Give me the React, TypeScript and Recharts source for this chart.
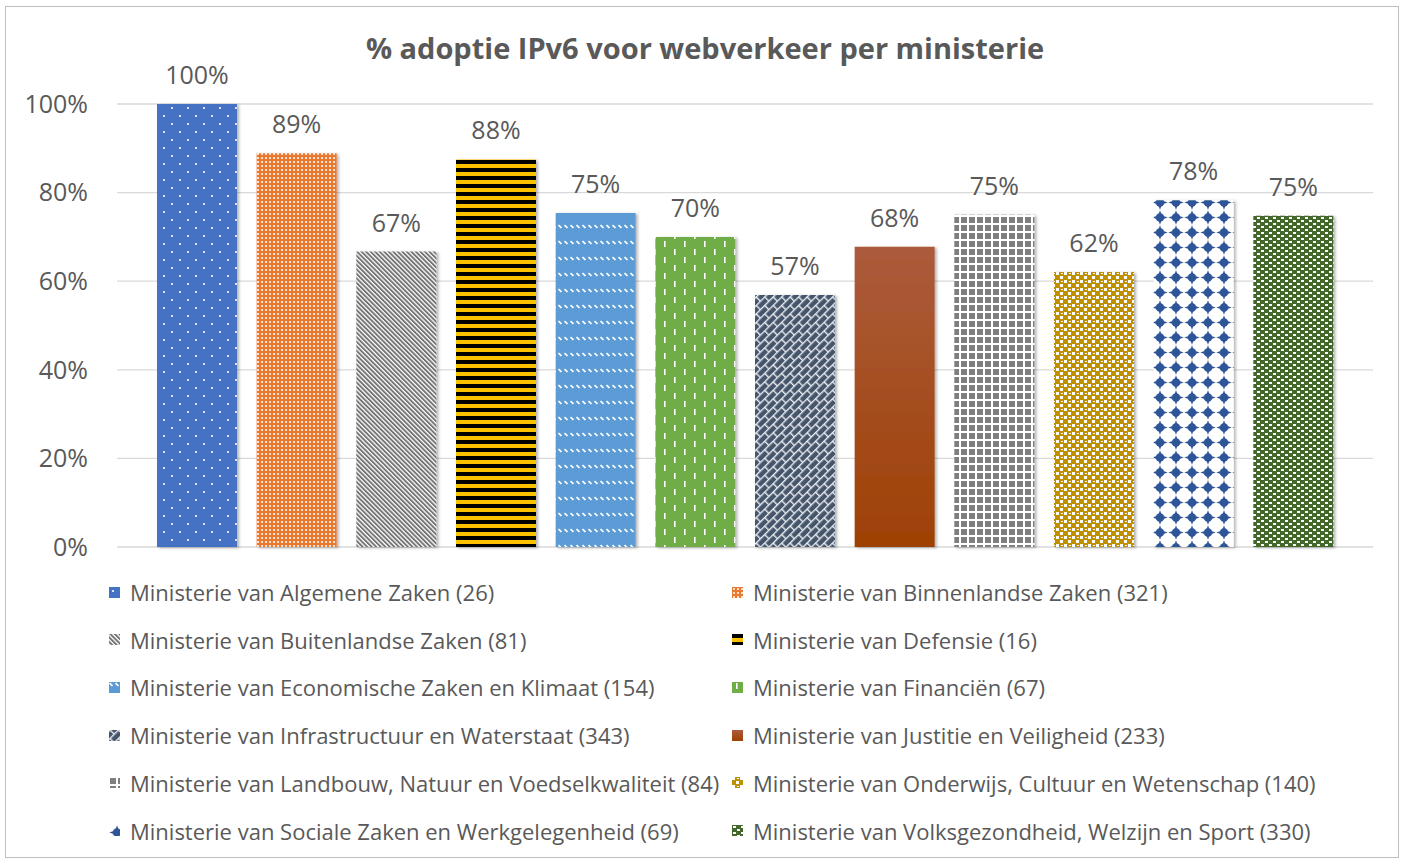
import React from 'react';
import { BarChart, Bar, XAxis, YAxis, CartesianGrid, Cell, LabelList, Legend } from 'recharts';

const categories = [
  'Ministerie van Algemene Zaken',
  'Ministerie van Binnenlandse Zaken',
  'Ministerie van Buitenlandse Zaken',
  'Ministerie van Defensie',
  'Ministerie van Economische Zaken en Klimaat',
  'Ministerie van Financiën',
  'Ministerie van Infrastructuur en Waterstaat',
  'Ministerie van Justitie en Veiligheid',
  'Ministerie van Landbouw, Natuur en Voedselkwaliteit',
  'Ministerie van Onderwijs, Cultuur en Wetenschap',
  'Ministerie van Sociale Zaken en Werkgelegenheid',
  'Ministerie van Volksgezondheid, Welzijn en Sport',
];
const counts = [26, 321, 81, 16, 154, 67, 343, 233, 84, 140, 69, 330];
const values = [1.0, 0.889, 0.667, 0.875, 0.754, 0.7, 0.569, 0.678, 0.75, 0.621, 0.783, 0.748];
const yTicks = [0, 0.2, 0.4, 0.6, 0.8, 1.0];
const fills = ['url(#pat0)', 'url(#pat1)', 'url(#pat2)', 'url(#pat3)', 'url(#pat4)', 'url(#pat5)', 'url(#pat6)', 'url(#grad7)', 'url(#pat8)', 'url(#pat9)', 'url(#pat10)', 'url(#pat11)'];

const TITLE = '% adoptie IPv6 voor webverkeer per ministerie';
const FONT = '"Open Sans", "Noto Sans", sans-serif';
const TEXT = '#595959';

const data = categories.map((c, i) => ({ name: `${c} (${counts[i]})`, value: values[i] }));

const pct = (v: number) => `${Math.round(v * 100)}%`;

function Defs() {
  return (
    <svg width={0} height={0} style={{ position: 'absolute' }}>
      <defs>
        <filter id="shadow" x="-10%" y="-5%" width="130%" height="115%">
          <feDropShadow dx="2" dy="1" stdDeviation="1.5" floodColor="#000" floodOpacity="0.3" />
        </filter>
        <pattern id="pat0" width="16" height="16" patternUnits="userSpaceOnUse">
          <rect width="16" height="16" fill="#4472C4" />
          <circle cx="4" cy="4" r="1.1" fill="#fff" />
          <circle cx="12" cy="12" r="1.1" fill="#fff" />
        </pattern>
        <pattern id="pat1" width="4" height="4" patternUnits="userSpaceOnUse">
          <rect width="4" height="4" fill="#E8792F" />
          <rect x="1" y="1" width="2" height="2" fill="#FAE1D0" />
        </pattern>
        <pattern id="pat2" width="3.2" height="6" patternUnits="userSpaceOnUse" patternTransform="rotate(-45)">
          <rect width="3.2" height="6" fill="#fff" />
          <rect width="1.9" height="6" fill="#737373" />
        </pattern>
        <pattern id="pat3" width="8" height="8" patternUnits="userSpaceOnUse">
          <rect width="8" height="8" fill="#FFC000" />
          <rect y="0" width="8" height="4" fill="#000" />
        </pattern>
        <pattern id="pat4" width="6" height="16" patternUnits="userSpaceOnUse">
          <rect width="6" height="16" fill="#5B9BD5" />
          <line x1="0.5" y1="1" x2="3.5" y2="4" stroke="#fff" strokeWidth="1.7" />
        </pattern>
        <pattern id="pat5" width="20" height="16" patternUnits="userSpaceOnUse">
          <rect width="20" height="16" fill="#70AD47" />
          <rect x="4" y="1" width="1.6" height="6" fill="#fff" />
          <rect x="14" y="9" width="1.6" height="6" fill="#fff" />
        </pattern>
        <pattern id="pat6" width="12" height="12" patternUnits="userSpaceOnUse" patternTransform="rotate(-45)">
          <rect width="12" height="12" fill="#44546A" />
          <rect x="0" y="0" width="12" height="1.4" fill="#E8EBF0" />
          <rect x="0" y="6" width="12" height="1.4" fill="#E8EBF0" />
          <rect x="0" y="0" width="1.4" height="6" fill="#E8EBF0" />
          <rect x="6" y="6" width="1.4" height="6" fill="#E8EBF0" />
        </pattern>
        <linearGradient id="grad7" x1="0" y1="0" x2="0" y2="1">
          <stop offset="0" stopColor="#AC5B3C" />
          <stop offset="1" stopColor="#9E4104" />
        </linearGradient>
        <pattern id="pat8" width="8" height="8" patternUnits="userSpaceOnUse">
          <rect width="8" height="8" fill="#fff" />
          <rect x="1" y="1" width="6" height="6" fill="#7F7F7F" />
        </pattern>
        <pattern id="pat9" width="8" height="8" patternUnits="userSpaceOnUse">
          <rect width="8" height="8" fill="#BF9000" />
          <rect x="0" y="0" width="3" height="3" fill="#fff" />
          <rect x="4" y="4" width="3" height="3" fill="#fff" />
          <rect x="5" y="1" width="2" height="1" fill="#fff" />
        </pattern>
        <pattern id="pat10" width="16" height="15" patternUnits="userSpaceOnUse">
          <rect width="16" height="15" fill="#fff" />
          <path d="M8 0.3 L9.9 5.6 L15.7 7.5 L9.9 9.4 L8 14.7 L6.1 9.4 L0.3 7.5 L6.1 5.6 Z" fill="#2F5597" />
          <circle cx="8" cy="7.5" r="4.3" fill="#2F5597" />
        </pattern>
        <pattern id="pat11" width="8" height="6" patternUnits="userSpaceOnUse">
          <rect width="8" height="6" fill="#43682B" />
          <rect x="1" y="1" width="3" height="2" fill="#fff" />
          <rect x="5" y="4" width="3" height="2" fill="#fff" />
        </pattern>
      </defs>
    </svg>
  );
}

function LegendContent() {
  return (
    <div style={{ position: 'relative', width: 1405, height: 290, fontFamily: FONT }}>
      {categories.map((c, i) => {
        const col = i % 2;
        const row = Math.floor(i / 2);
        const left = col === 0 ? 109 : 732;
        const top = 22 + row * 47.7;
        return (
          <div key={c} style={{ position: 'absolute', left, top: top - 15, height: 30, display: 'flex', alignItems: 'center', whiteSpace: 'nowrap' }}>
            <svg width={11} height={11} style={{ marginRight: 10 }}>
              <rect width={11} height={11} fill={fills[i]} />
            </svg>
            <span style={{ fontSize: 22, color: TEXT }}>{`${c} (${counts[i]})`}</span>
          </div>
        );
      })}
    </div>
  );
}

export default function App() {
  return (
    <div style={{ position: 'absolute', left: 0, top: 0, width: 1405, height: 863, background: '#fff', fontFamily: FONT }}>
      <Defs />
      <div style={{ position: 'absolute', left: 5, top: 6, width: 1394, height: 852, border: '1px solid #BFBFBF', boxSizing: 'border-box' }} />
      <div style={{ position: 'absolute', left: 0, top: 28, width: 1410, textAlign: 'center', fontSize: 29, fontWeight: 700, color: TEXT, lineHeight: '40px' }}>
        {TITLE}
      </div>
      <div style={{ position: 'absolute', left: 0, top: 0 }}>
        <BarChart width={1405} height={863} data={data} margin={{ top: 104, right: 32, bottom: 316, left: 37 }}>
          <CartesianGrid vertical={false} stroke="#D9D9D9" strokeWidth={1.3} />
          <XAxis dataKey="name" hide padding={{ left: 30, right: 30 }} />
          <YAxis
            width={80}
            domain={[0, 1]}
            ticks={yTicks}
            tickFormatter={pct}
            axisLine={false}
            tickLine={false}
            tickSize={0}
            tickMargin={29}
            tick={{ fill: TEXT, fontSize: 25, fontFamily: FONT }}
          />
          <Bar dataKey="value" barSize={80} isAnimationActive={false} filter="url(#shadow)">
            {data.map((d, i) => (
              <Cell key={d.name} fill={fills[i]} />
            ))}
            <LabelList dataKey="value" position="top" offset={20} formatter={(v: any) => pct(Number(v))} style={{ fill: TEXT, fontSize: 25, fontFamily: FONT }} />
          </Bar>
          <Legend
            layout="horizontal"
            verticalAlign="middle"
            align="center"
            content={() => <LegendContent />}
            wrapperStyle={{ left: 0, top: 570, width: 1405, height: 290 }}
          />
        </BarChart>
      </div>
    </div>
  );
}
